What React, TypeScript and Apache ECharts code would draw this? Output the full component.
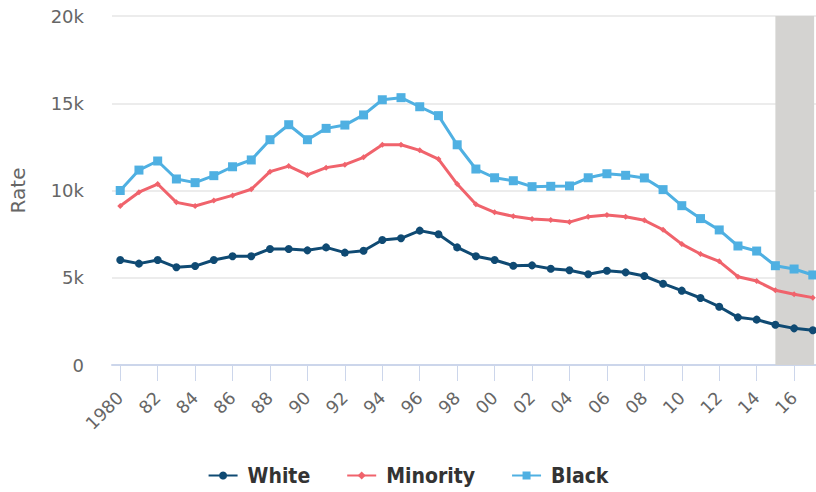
import React, { useEffect, useRef } from "react";
import * as echarts from "echarts";

const years = [
  1980, 1981, 1982, 1983, 1984, 1985, 1986, 1987, 1988, 1989,
  1990, 1991, 1992, 1993, 1994, 1995, 1996, 1997, 1998, 1999,
  2000, 2001, 2002, 2003, 2004, 2005, 2006, 2007, 2008, 2009,
  2010, 2011, 2012, 2013, 2014, 2015, 2016, 2017,
];

const white = [
  6020, 5810, 6020, 5600, 5670, 6020, 6230, 6230, 6650, 6650,
  6570, 6740, 6440, 6550, 7160, 7260, 7700, 7490, 6740, 6230,
  6020, 5690, 5710, 5520, 5430, 5200, 5400, 5310, 5100, 4660,
  4260, 3840, 3340, 2730, 2600, 2310, 2100, 1990,
];

const minority = [
  9110, 9900, 10370, 9320, 9110, 9420, 9720, 10070, 11080, 11400,
  10890, 11310, 11480, 11900, 12620, 12620, 12300, 11800, 10370, 9210,
  8750, 8520, 8370, 8310, 8190, 8500, 8600, 8500, 8290, 7750,
  6930, 6360, 5940, 5060, 4810, 4280, 4050, 3860,
];

const black = [
  10000, 11170, 11690, 10660, 10450, 10850, 11360, 11750, 12910, 13770,
  12910, 13560, 13750, 14330, 15200, 15320, 14800, 14290, 12620, 11230,
  10730, 10560, 10220, 10240, 10260, 10730, 10960, 10870, 10720, 10050,
  9130, 8390, 7740, 6820, 6530, 5690, 5500, 5160,
];

const tickYears = [
  1980, 1982, 1984, 1986, 1988, 1990, 1992, 1994, 1996, 1998,
  2000, 2002, 2004, 2006, 2008, 2010, 2012, 2014, 2016,
];

const yTicks = [0, 5000, 10000, 15000, 20000];

const shadeStart = 2015;
const shadeEnd = 2017.07;

const seriesNames = ["White", "Minority", "Black"];
const colors = ["#0f4a73", "#f0636c", "#4fb0e2"];

export default function App() {
  const ref = useRef<HTMLDivElement>(null);

  useEffect(() => {
    if (!ref.current) return;
    const chart = echarts.init(ref.current, null, { renderer: "svg" });
    const pair = (arr: number[]) => years.map((y, i) => [y, arr[i]]);
    const axisFont = "DejaVu Sans";

    chart.setOption({
      animation: false,
      backgroundColor: "#ffffff",
      color: colors,
      grid: { left: 111, right: 0, top: 16, bottom: 127, containLabel: false },
      legend: {
        bottom: 1,
        left: "center",
        itemWidth: 29,
        itemHeight: 10,
        itemGap: 36,
        textStyle: {
          fontFamily: "DejaVu Sans Condensed",
          fontWeight: "bold",
          fontSize: 21,
          color: "#333333",
          padding: [0, 0, 0, 5],
        },
        data: seriesNames,
      },
      xAxis: {
        type: "value",
        min: 1979.56,
        max: 2017.17,
        axisLine: { show: true, onZero: false, lineStyle: { color: "#ccd6eb", width: 2 } },
        axisTick: {
          show: true,
          length: 16,
          customValues: tickYears,
          lineStyle: { color: "#ccd6eb", width: 1 },
        },
        axisLabel: {
          customValues: tickYears,
          rotate: 45,
          margin: 30,
          fontFamily: axisFont,
          fontSize: 17.5,
          color: "#666666",
          formatter: (v: number) => (v === 1980 ? "1980" : String(v).slice(2)),
        },
        splitLine: { show: false },
      },
      yAxis: {
        type: "value",
        min: yTicks[0],
        max: yTicks[yTicks.length - 1],
        interval: 5000,
        name: "Rate",
        nameLocation: "middle",
        nameGap: 84,
        nameTextStyle: { fontFamily: axisFont, fontSize: 20, color: "#666666" },
        axisLine: { show: false },
        axisTick: { show: false },
        axisLabel: {
          margin: 28,
          fontFamily: axisFont,
          fontSize: 18,
          color: "#666666",
          formatter: (v: number) => (v === 0 ? "0" : v / 1000 + "k"),
        },
        splitLine: { lineStyle: { color: "#e6e6e6", width: 1.5 } },
      },
      series: [
        {
          name: seriesNames[0],
          type: "line",
          data: pair(white),
          symbol: "circle",
          symbolSize: 8,
          lineStyle: { width: 3, color: colors[0] },
          itemStyle: { color: colors[0] },
          z: 4,
        },
        {
          name: seriesNames[1],
          type: "line",
          data: pair(minority),
          symbol: "diamond",
          symbolSize: 6,
          lineStyle: { width: 3, color: colors[1] },
          itemStyle: { color: colors[1] },
          z: 3,
        },
        {
          name: seriesNames[2],
          type: "line",
          data: pair(black),
          symbol: "rect",
          symbolSize: 9,
          lineStyle: { width: 3, color: colors[2] },
          itemStyle: { color: colors[2] },
          z: 2,
          markArea: {
            silent: true,
            itemStyle: { color: "#d4d3d1" },
            data: [[{ xAxis: shadeStart }, { xAxis: shadeEnd }]],
          },
        },
      ],
    });
    return () => chart.dispose();
  }, []);

  return (
    <div
      ref={ref}
      style={{ position: "fixed", left: 0, top: 0, width: 816, height: 492 }}
    />
  );
}
